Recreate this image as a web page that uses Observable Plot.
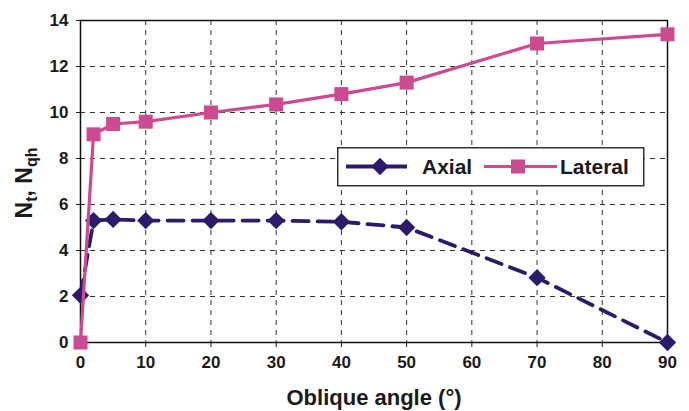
<!DOCTYPE html>
<html>
<head>
<meta charset="utf-8">
<script src="https://cdn.jsdelivr.net/npm/d3@7"></script>
<script src="https://cdn.jsdelivr.net/npm/@observablehq/plot@0.6"></script>
<style>
  body { margin: 0; background: #fff; }
  #wrap { position: relative; width: 689px; height: 411px; font-family: "Liberation Sans", Arial, Helvetica, sans-serif; }
  #legend { position: absolute; left: 337px; top: 147px; }
</style>
</head>
<body>
<div id="wrap"></div>
<script>
const angles = [0, 2, 5, 10, 20, 30, 40, 50, 70, 90];
const axialValues = [2.05, 5.3, 5.35, 5.3, 5.3, 5.3, 5.25, 5.0, 2.82, 0];
const lateralValues = [0, 9.05, 9.5, 9.6, 10.0, 10.35, 10.8, 11.3, 13.0, 13.4];
const xTicks = [0, 10, 20, 30, 40, 50, 60, 70, 80, 90];
const yTicks = [0, 2, 4, 6, 8, 10, 12, 14];
const seriesNames = ["Axial", "Lateral"];
const xTitle = "Oblique angle (°)";

const axialColor = "#2e1a6b";
const lateralColor = "#cc4a8f";

const axial = angles.map((a, i) => ({angle: a, value: axialValues[i]}));
const lateral = angles.map((a, i) => ({angle: a, value: lateralValues[i]}));

const chart = Plot.plot({
  width: 689,
  height: 411,
  marginLeft: 80,
  marginRight: 22,
  marginTop: 20,
  marginBottom: 69,
  style: {fontFamily: '"Liberation Sans", Arial, Helvetica, sans-serif', fontSize: "17px", fontWeight: "bold", color: "#1a1a1a", background: "#fff"},
  x: {domain: [0, 90]},
  y: {domain: [0, 14]},
  marks: [
    Plot.gridX(xTicks.slice(1, -1), {stroke: "#333", strokeOpacity: 1, strokeWidth: 1, strokeDasharray: "5,5"}),
    Plot.gridY(yTicks.slice(1, -1), {stroke: "#333", strokeOpacity: 1, strokeWidth: 1, strokeDasharray: "5,5"}),
    Plot.frame({stroke: "#111", strokeWidth: 1.5}),
    Plot.axisX({ticks: xTicks, tickSize: 5, tickPadding: 8, label: null, tickFormat: d => d}),
    Plot.axisY({ticks: yTicks, tickSize: 4, tickPadding: 8, label: null, tickFormat: d => d}),
    Plot.line(axial, {x: "angle", y: "value", stroke: axialColor, strokeWidth: 3.8, strokeDasharray: "16,9"}),
    Plot.dot(axial, {x: "angle", y: "value", symbol: "diamond2", r: 7.8, fill: axialColor, stroke: "none"}),
    Plot.line(lateral, {x: "angle", y: "value", stroke: lateralColor, strokeWidth: 3.2}),
    Plot.dot(lateral, {x: "angle", y: "value", symbol: "square", r: 7.9, fill: lateralColor, stroke: "none"})
  ]
});

document.getElementById("wrap").appendChild(chart);

const svg = d3.select(chart);
// X axis title
svg.append("text")
  .attr("x", 374).attr("y", 405)
  .attr("text-anchor", "middle")
  .style("font-size", "22px").style("font-weight", "bold").attr("fill", "#1a1a1a")
  .text(xTitle);
// Y axis title with subscripts
const yt = svg.append("text")
  .attr("transform", "translate(32,183) rotate(-90)")
  .attr("text-anchor", "middle")
  .style("font-size", "23px").style("font-weight", "bold").attr("fill", "#1a1a1a");
yt.append("tspan").text("N");
yt.append("tspan").attr("dy", 5).style("font-size", "16px").text("t");
yt.append("tspan").attr("dy", -5).text(", N");
yt.append("tspan").attr("dy", 5).style("font-size", "16px").text("qh");

// Legend
const lg = d3.select("#wrap").append("svg")
  .attr("id", "legend").attr("width", 309).attr("height", 40);
lg.append("rect").attr("x", 0.75).attr("y", 0.75).attr("width", 306).attr("height", 38)
  .attr("fill", "#fff").attr("stroke", "#333").attr("stroke-width", 1.5);
lg.append("line").attr("x1", 9).attr("x2", 70).attr("y1", 19.5).attr("y2", 19.5)
  .attr("stroke", axialColor).attr("stroke-width", 3.8);
lg.append("path").attr("d", d3.symbol(d3.symbolDiamond2, Math.PI * 7.8 * 7.8)())
  .attr("transform", "translate(43,19.5)").attr("fill", axialColor);
lg.append("text").attr("x", 85).attr("y", 27).style("font-size", "21px").style("font-weight", "bold")
  .style("font-family", '"Liberation Sans", Arial, sans-serif').attr("fill", "#1a1a1a").text(seriesNames[0]);
lg.append("line").attr("x1", 147).attr("x2", 220).attr("y1", 19.5).attr("y2", 19.5)
  .attr("stroke", lateralColor).attr("stroke-width", 3.2);
lg.append("path").attr("d", d3.symbol(d3.symbolSquare, Math.PI * 7.9 * 7.9)())
  .attr("transform", "translate(181,19.5)").attr("fill", lateralColor);
lg.append("text").attr("x", 223).attr("y", 27).style("font-size", "21px").style("font-weight", "bold")
  .style("font-family", '"Liberation Sans", Arial, sans-serif').attr("fill", "#1a1a1a").text(seriesNames[1]);
</script>
</body>
</html>
